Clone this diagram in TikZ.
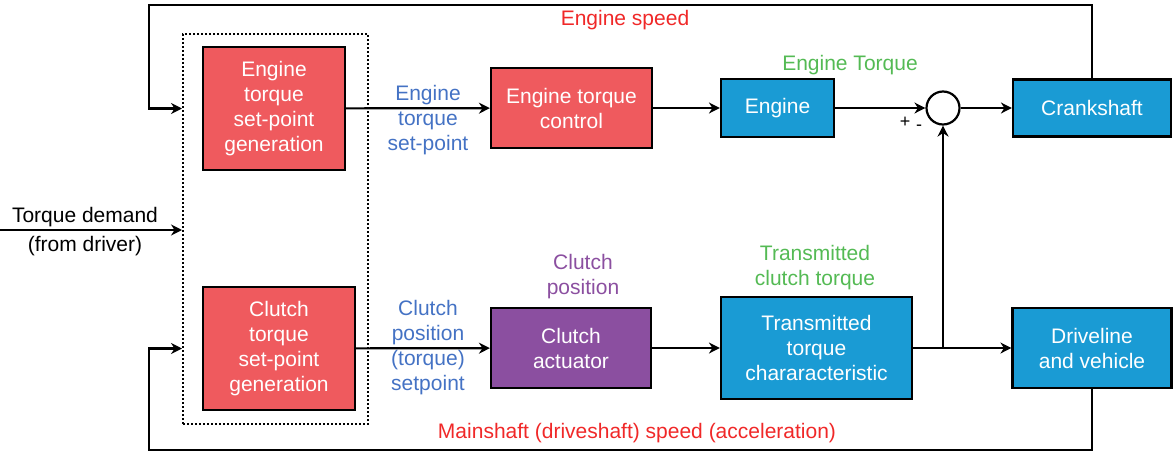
\documentclass[tikz,border=0pt]{standalone}
\usepackage{fontspec}
\setmainfont{Liberation Sans}
\usepackage{xcolor}
\usetikzlibrary{arrows.meta}
\definecolor{boxred}{RGB}{239,90,94}
\definecolor{boxblue}{RGB}{26,155,212}
\definecolor{boxpurple}{RGB}{139,79,160}
\definecolor{txtblue}{RGB}{68,114,196}
\definecolor{txtgreen}{RGB}{84,186,84}
\definecolor{txtred}{RGB}{240,40,40}

\begin{document}
\begin{tikzpicture}[
  x=1pt, y=-1pt,
  font=\fontsize{21}{25}\selectfont,
  every node/.style = {align=center, inner sep=0pt},
  block/.style = {draw, line width=2.2pt, text=white},
  sig/.style = {line width=2.2pt, -{Stealth[length=11pt, width=11pt]}}]
  \useasboundingbox (0,0) rectangle (1174,455);

  % set-point generation
  \node[draw, dash pattern=on 2pt off 2pt, line width=2pt, minimum width=185pt, minimum height=390pt] (grp) at (275.5,229) {};
  \node[block, fill=boxred, minimum width=142pt, minimum height=123pt] (egen) at (274,108.5)
    {Engine\\torque\\set-point\\generation};
  \node[block, fill=boxred, minimum width=152pt, minimum height=123pt] (cgen) at (279,348.5)
    {Clutch\\torque\\set-point\\generation};

  % engine path
  \node[block, fill=boxred, minimum width=161pt, minimum height=80pt] (etc) at (571.5,108)
    {Engine torque\\control};
  \node[block, fill=boxblue, minimum width=113pt, minimum height=58pt] (eng) at (777.5,108) {Engine};
  \node[draw, circle, line width=2.2pt, minimum size=33pt] (sum) at (943,108) {};
  \node[block, fill=boxblue, minimum width=158pt, minimum height=57pt] (crank) at (1092,108) {Crankshaft};

  % clutch path
  \node[block, fill=boxpurple, minimum width=160pt, minimum height=80pt] (act) at (571,348)
    {Clutch\\actuator};
  \node[block, fill=boxblue, minimum width=191pt, minimum height=102pt] (ttc) at (816.5,348)
    {Transmitted\\torque\\chararacteristic};
  \node[block, fill=boxblue, minimum width=159pt, minimum height=80pt] (drv) at (1092,348)
    {Driveline\\and vehicle};

  % labels
  \node[text=txtred] (lspd) at (625,20) {Engine speed};
  \node[text=txtblue] (lesp) at (428,120) {Engine\\torque\\set-point};
  \node[text=txtgreen] (letq) at (850,65) {Engine Torque};
  \node (lplus) at (905,122) {\fontsize{18}{18}\selectfont +};
  \node (lminus) at (919,128) {\fontsize{18}{18}\selectfont -};
  \node[text=txtblue] (lcsp) at (428,347.5) {Clutch\\position\\(torque)\\setpoint};
  \node[text=boxpurple] (lpos) at (583,277) {Clutch\\position};
  \node[text=txtgreen] (lctq) at (815,268) {Transmitted\\clutch torque};
  \node[text=txtred] (lmsp) at (637,433) {Mainshaft (driveshaft) speed (acceleration)};
  \node (ldem) at (85,217) {Torque demand};
  \node (ldrv) at (85,246) {(from driver)};

  \coordinate (in) at (0,230);
  \coordinate (br) at (943,348);

  \draw[sig] (in) -- (grp.west |- in);
  \draw[sig] (egen) -- (etc);
  \draw[sig] (etc) -- (eng);
  \draw[sig] (eng) -- (sum);
  \draw[sig] (sum) -- (crank);
  \draw[sig] (cgen) -- (act);
  \draw[sig] (act) -- (ttc);
  \draw[sig] (ttc) -- (drv);
  \draw[sig] (br) -- (sum);
  % feedback loops
  \draw[sig] (crank.north) |- (149,5) |- (grp.west |- egen);
  \draw[sig] (drv.south) |- (149,450) |- (grp.west |- cgen);
\end{tikzpicture}
\end{document}
